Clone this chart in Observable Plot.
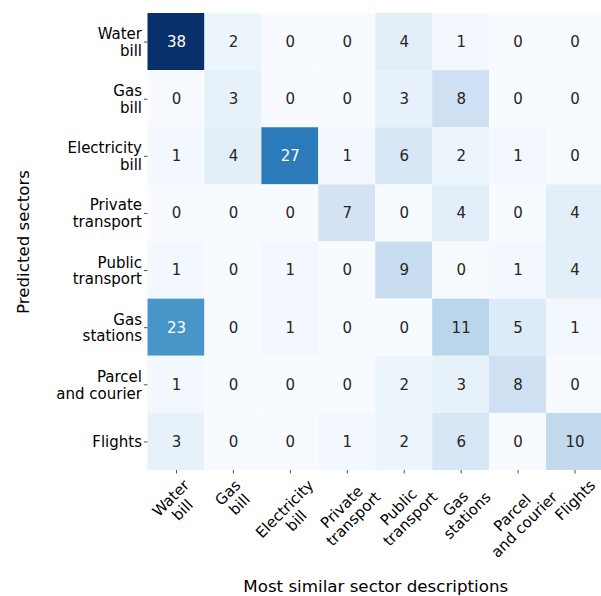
<!DOCTYPE html>
<html><head><meta charset="utf-8">
<script src="https://cdn.jsdelivr.net/npm/d3@7"></script>
<script src="https://cdn.jsdelivr.net/npm/@observablehq/plot@0.6"></script>
<style>body{margin:0;background:#fff}</style>
</head><body><div id="chart"></div>
<script>
const predicted = ["Water\nbill", "Gas\nbill", "Electricity\nbill", "Private\ntransport", "Public\ntransport", "Gas\nstations", "Parcel\nand courier", "Flights"];
const described = ["Water\nbill", "Gas\nbill", "Electricity\nbill", "Private\ntransport", "Public\ntransport", "Gas\nstations", "Parcel\nand courier", "Flights"];
const counts = [
  [38, 2, 0, 0, 4, 1, 0, 0],
  [0, 3, 0, 0, 3, 8, 0, 0],
  [1, 4, 27, 1, 6, 2, 1, 0],
  [0, 0, 0, 7, 0, 4, 0, 4],
  [1, 0, 1, 0, 9, 0, 1, 4],
  [23, 0, 1, 0, 0, 11, 5, 1],
  [1, 0, 0, 0, 2, 3, 8, 0],
  [3, 0, 0, 1, 2, 6, 0, 10]
];
const xTitle = "Most similar sector descriptions";
const yTitle = "Predicted sectors";
const bluesStops = ["#f7fbff", "#deebf7", "#c6dbef", "#9ecae1", "#6baed6", "#4292c6", "#2171b5", "#08519c", "#08306b"];

const FS = 15, LH = 16.7, TFS = 16.7;

const cells = [];
predicted.forEach((p, i) => described.forEach((d, j) => cells.push({pred: p, desc: d, value: counts[i][j]})));
const vmax = d3.max(cells, d => d.value);
const colorDomain = bluesStops.map((_, i) => vmax * i / (bluesStops.length - 1));
const cmap = d3.scaleLinear().domain(colorDomain).range(bluesStops).interpolate(d3.interpolateRgb);
function lum(c) {
  const {r, g, b} = d3.rgb(c);
  const f = v => { v /= 255; return v <= 0.03928 ? v / 12.92 : Math.pow((v + 0.055) / 1.055, 2.4); };
  return 0.2126 * f(r) + 0.7152 * f(g) + 0.0722 * f(b);
}
const isLight = d => lum(cmap(d.value)) > 0.408;

const ctx = document.createElement("canvas").getContext("2d");
ctx.font = FS + 'px "DejaVu Sans"';
function labelDy(lab) {
  const lines = lab.split("\n");
  const w = d3.max(lines, l => ctx.measureText(l).width);
  const h = (lines.length - 1) * LH + 0.93 * FS;
  return 3.5 + 3.5 + (w + h) / (2 * Math.SQRT2);
}

const chart = Plot.plot({
  width: 601,
  height: 596,
  marginLeft: 147.5,
  marginRight: -2,
  marginTop: 13,
  marginBottom: 126,
  style: {fontFamily: "DejaVu Sans", fontSize: FS + "px", color: "black", background: "white"},
  x: {domain: described, padding: 0, round: false},
  y: {domain: predicted, padding: 0, round: false},
  color: {type: "linear", domain: colorDomain, range: bluesStops, interpolate: "rgb"},
  marks: [
    Plot.cell(cells, {x: "desc", y: "pred", fill: "value", inset: 0}),
    Plot.text(cells, {x: "desc", y: "pred", text: d => String(d.value), filter: isLight, fill: "#262626", fontSize: FS}),
    Plot.text(cells, {x: "desc", y: "pred", text: d => String(d.value), filter: d => !isLight(d), fill: "white", fontSize: FS}),
    Plot.axisY({tickSize: 3.5, tickPadding: 2.5, fontSize: FS, lineHeight: LH / FS, fill: "black", stroke: "#262626", strokeWidth: 0.8, label: null}),
    Plot.axisX({tickSize: 3.5, tickFormat: () => "", stroke: "#262626", strokeWidth: 0.8, label: null}),
    ...described.map(lab => Plot.text([lab], {x: d => d, text: d => d, frameAnchor: "bottom", dy: labelDy(lab), rotate: -45, textAnchor: "middle", lineAnchor: "middle", lineHeight: LH / FS, fontSize: FS, fill: "black"})),
    Plot.text([xTitle], {text: d => d, frameAnchor: "bottom", dy: 116.5, textAnchor: "middle", lineAnchor: "middle", fontSize: TFS, fill: "black"}),
    Plot.text([yTitle], {text: d => d, frameAnchor: "left", dx: -124.3, rotate: -90, textAnchor: "middle", lineAnchor: "middle", fontSize: TFS, fill: "black"})
  ]
});
document.getElementById("chart").appendChild(chart);
</script>
</body></html>
